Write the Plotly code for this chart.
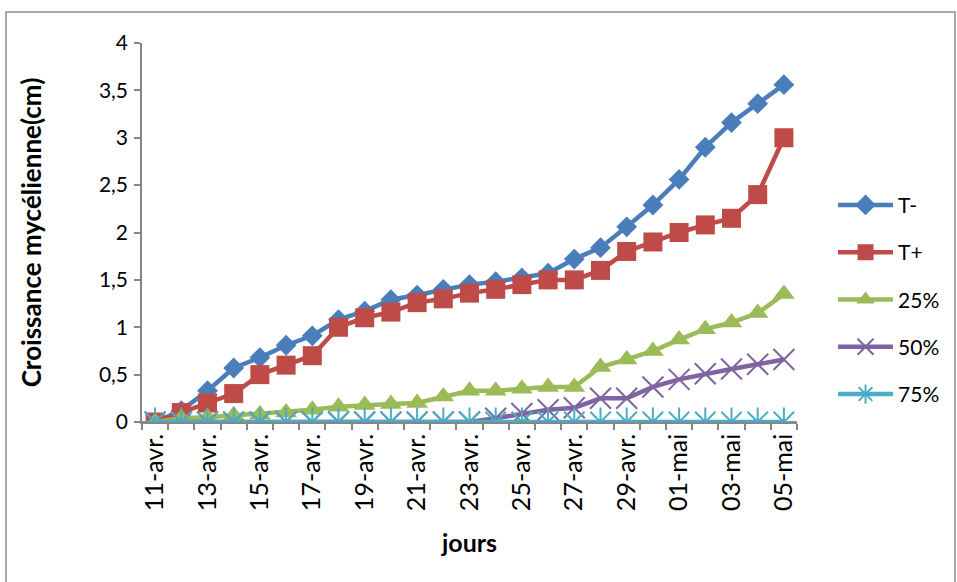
import plotly.graph_objects as go

# Days of measurement (11 April -> 5 May)
days = ["11-avr.", "12-avr.", "13-avr.", "14-avr.", "15-avr.", "16-avr.", "17-avr.",
        "18-avr.", "19-avr.", "20-avr.", "21-avr.", "22-avr.", "23-avr.", "24-avr.",
        "25-avr.", "26-avr.", "27-avr.", "28-avr.", "29-avr.", "30-avr.", "01-mai",
        "02-mai", "03-mai", "04-mai", "05-mai"]

# Mycelial growth (cm) per treatment
t_moins = [0, 0.12, 0.33, 0.57, 0.68, 0.81, 0.91, 1.08, 1.17, 1.29, 1.34, 1.40, 1.45,
           1.48, 1.52, 1.57, 1.72, 1.84, 2.06, 2.29, 2.56, 2.90, 3.16, 3.36, 3.56]
t_plus = [0, 0.10, 0.20, 0.30, 0.50, 0.60, 0.70, 1.00, 1.10, 1.16, 1.26, 1.30, 1.36,
          1.40, 1.45, 1.50, 1.50, 1.60, 1.80, 1.90, 2.00, 2.08, 2.15, 2.40, 3.00]
c25 = [0, 0.04, 0.05, 0.07, 0.08, 0.10, 0.13, 0.16, 0.18, 0.19, 0.20, 0.27, 0.33,
       0.33, 0.35, 0.37, 0.37, 0.58, 0.66, 0.75, 0.87, 0.98, 1.05, 1.15, 1.35]
c50 = [0, 0, 0, 0, 0, 0, 0, 0, 0, 0, 0, 0, 0,
       0.04, 0.09, 0.13, 0.15, 0.25, 0.25, 0.37, 0.45, 0.51, 0.56, 0.61, 0.66]
c75 = [0] * 25

y_ticks = [0, 0.5, 1, 1.5, 2, 2.5, 3, 3.5, 4]

FONT = "Lato, 'Open Sans', sans-serif"
pos = list(range(len(days)))

series = [
    ("T-", t_moins, "#4A7EBB", dict(symbol="diamond", size=16)),
    ("T+", t_plus, "#BE4B48", dict(symbol="square", size=19)),
    ("25%", c25, "#9BBB59", dict(symbol="triangle-up", size=19)),
    ("50%", c50, "#7F64A1", dict(symbol="x-thin-open", size=21, line=dict(width=2, color="#7F64A1"))),
    ("75%", c75, "#4BACC6", dict(symbol="asterisk-open", size=24, line=dict(width=2, color="#4BACC6"))),
]

fig = go.Figure()
for i, (name, vals, color, mk) in enumerate(series):
    marker = dict(color=color)
    marker.update(mk)
    fig.add_trace(go.Scatter(
        x=pos, y=vals, name=name, mode="lines+markers",
        line=dict(color=color, width=4.5),
        marker=marker, legendgroup=str(i),
    ))

fig.update_layout(
    width=957, height=582,
    margin=dict(l=142, r=160, t=43, b=160),
    paper_bgcolor="white", plot_bgcolor="white",
    separators=", ",
    font=dict(family=FONT, size=21, color="black"),
    showlegend=True,
    legend=dict(x=1.055, y=0.626, xanchor="left", yanchor="top",
                font=dict(size=21), tracegroupgap=17, itemwidth=55,
                bgcolor="rgba(0,0,0,0)"),
)

fig.update_xaxes(
    range=[-0.5, len(days) - 0.5],
    tickmode="array", tickvals=pos[::2], ticktext=days[::2],
    tickangle=-90, ticks="", showgrid=False, zeroline=False,
    showline=True, linecolor="#868686", linewidth=1.5,
    tickfont=dict(size=25),
    minor=dict(tickmode="linear", tick0=0.5, dtick=1, ticks="outside",
               ticklen=6, tickcolor="#868686", tickwidth=1.5, showgrid=False),
    title=dict(text="<b>jours</b>", font=dict(size=25), standoff=24),
)
fig.update_yaxes(
    range=[0, 4], tickmode="array", tickvals=y_ticks,
    ticks="outside", ticklen=6, tickcolor="#868686", tickwidth=1.5,
    showgrid=False, zeroline=False,
    showline=True, linecolor="#868686", linewidth=1.5,
    tickfont=dict(size=21), ticklabelstandoff=2,
    title=dict(text="<b>Croissance mycélienne(cm)</b>", font=dict(size=26), standoff=50),
)

# Outer chart frame
fig.add_shape(type="rect", xref="paper", yref="paper",
              x0=-0.2076, x1=1.2412, y0=-0.45, y1=1.0818,
              line=dict(color="#8C8C8C", width=1.5), fillcolor="rgba(0,0,0,0)",
              layer="below")

fig.write_html("out.html")
